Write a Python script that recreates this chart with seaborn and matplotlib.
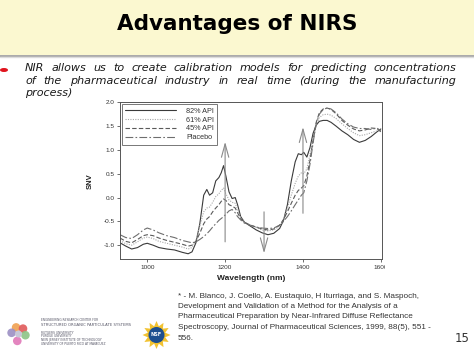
import numpy as np
import pandas as pd
import seaborn as sns
import matplotlib
matplotlib.use('Agg')
import matplotlib.pyplot as plt
from matplotlib.patches import Rectangle, Circle, Ellipse, Polygon
from matplotlib.transforms import Bbox, TransformedBbox

# ---- data ----
wavelength = [930, 945, 960, 975, 990, 1000, 1015, 1030, 1050, 1070, 1090, 1105, 1115, 1125,
              1135, 1145, 1153, 1160, 1168, 1176, 1184, 1190, 1196, 1202, 1210, 1218, 1226,
              1232, 1240, 1250, 1265, 1280, 1295, 1310, 1325, 1340, 1350, 1360, 1370, 1380,
              1388, 1396, 1402, 1410, 1418, 1426, 1434, 1442, 1452, 1462, 1472, 1485, 1500,
              1515, 1530, 1545, 1560, 1575, 1590, 1600]

api_82 = [-0.95, -1.02, -1.08, -1.05, -0.98, -0.96, -1.00, -1.05, -1.08, -1.10, -1.15, -1.18,
          -1.14, -0.95, -0.55, 0.05, 0.17, 0.05, 0.10, 0.35, 0.42, 0.52, 0.67, 0.45, 0.12,
          -0.02, 0.00, -0.15, -0.40, -0.52, -0.60, -0.68, -0.74, -0.78, -0.75, -0.65, -0.48,
          -0.15, 0.35, 0.75, 0.92, 0.90, 0.95, 0.85, 1.05, 1.35, 1.52, 1.60, 1.62, 1.62, 1.58,
          1.50, 1.40, 1.32, 1.22, 1.16, 1.20, 1.28, 1.38, 1.44]

api_61 = [-0.90, -0.97, -1.00, -0.93, -0.85, -0.83, -0.86, -0.92, -0.96, -1.00, -1.04, -1.08,
          -1.05, -0.90, -0.60, -0.30, -0.22, -0.20, -0.10, 0.02, 0.08, 0.15, 0.20, 0.08, -0.05,
          -0.10, -0.12, -0.25, -0.42, -0.52, -0.58, -0.63, -0.68, -0.70, -0.68, -0.60, -0.46,
          -0.22, 0.05, 0.30, 0.45, 0.52, 0.50, 0.60, 0.90, 1.25, 1.52, 1.68, 1.74, 1.75, 1.73,
          1.66, 1.55, 1.45, 1.36, 1.30, 1.32, 1.36, 1.40, 1.40]

api_45 = [-0.85, -0.92, -0.95, -0.88, -0.80, -0.78, -0.80, -0.85, -0.90, -0.94, -0.98, -1.02,
          -1.00, -0.92, -0.75, -0.55, -0.45, -0.40, -0.30, -0.22, -0.15, -0.08, -0.03, -0.06,
          -0.15, -0.18, -0.22, -0.32, -0.44, -0.52, -0.58, -0.62, -0.66, -0.68, -0.66, -0.58,
          -0.46, -0.30, -0.12, 0.05, 0.15, 0.20, 0.25, 0.45, 0.78, 1.20, 1.58, 1.78, 1.86, 1.88,
          1.85, 1.76, 1.62, 1.52, 1.44, 1.40, 1.42, 1.46, 1.45, 1.38]

placebo = [-0.78, -0.84, -0.86, -0.78, -0.68, -0.64, -0.68, -0.74, -0.80, -0.84, -0.90, -0.93,
           -0.95, -0.93, -0.88, -0.82, -0.76, -0.70, -0.62, -0.55, -0.48, -0.44, -0.40, -0.35,
           -0.28, -0.25, -0.32, -0.40, -0.47, -0.54, -0.58, -0.62, -0.64, -0.65, -0.64, -0.58,
           -0.50, -0.40, -0.28, -0.15, -0.05, 0.05, 0.10, 0.35, 0.70, 1.15, 1.55, 1.75, 1.85,
           1.88, 1.86, 1.78, 1.65, 1.55, 1.48, 1.45, 1.45, 1.43, 1.46, 1.40]

names = ['82% API', '61% API', '45% API', 'Placebo']

arrow_x = [1200, 1300, 1400]
arrow_from = [-0.93, -0.30, -0.33]
arrow_to = [1.17, -1.17, 1.48]

xticks = [1000, 1200, 1400, 1600]
yticks = [-1.0, -0.5, 0.0, 0.5, 1.0, 1.5, 2.0]

df = pd.DataFrame({'Wavelength': wavelength * 4,
                   'SNV': api_82 + api_61 + api_45 + placebo,
                   'sample': np.repeat(names, len(wavelength))})

sns.set_theme(style='ticks')
plt.rcParams['font.family'] = ['DejaVu Sans']

fig = plt.figure(figsize=(4.74, 3.55), dpi=100)
fig.patch.set_facecolor('white')

# slide decorations drawn in pixel coordinates
over = fig.add_axes([0, 0, 1, 1], zorder=-1)
over.set_xlim(0, 474)
over.set_ylim(355, 0)
over.axis('off')

over.add_patch(Rectangle((0, 0), 474, 55, color='#fbf8d0', lw=0))
over.plot([0, 474], [55.5, 55.5], color='#a3a3a3', lw=1.3)
over.plot([0, 474], [57, 57], color='#dcdcdc', lw=1.0)
over.text(237, 24, 'Advantages of NIRS', ha='center', va='center', fontsize=15.5,
          fontweight='bold', color='black')

over.add_patch(Ellipse((4, 70), 8, 4, color='#e0141e', lw=0))

body_kw = dict(fontsize=8.0, style='italic', color='#1a1a1a', va='center', ha='left')
renderer = fig.canvas.get_renderer()


def justified(line, y, x0, x1):
    words = line.split()
    texts = [over.text(x0, y, w, **body_kw) for w in words]
    widths = [t.get_window_extent(renderer).width for t in texts]
    gap = (x1 - x0 - sum(widths)) / (len(words) - 1)
    x = x0
    for t, w in zip(texts, widths):
        t.set_x(x)
        x += w + gap


justified('NIR allows us to create calibration models for predicting concentrations', 68, 25, 456)
justified('of the pharmaceutical industry in real time (during the manufacturing', 80.5, 25, 456)
over.text(25, 93, 'process)', **body_kw)

cite = ('* - M. Blanco, J. Coello, A. Eustaquio, H Iturriaga, and S. Maspoch,\n'
        'Development and Validation of a Method for the Analysis of a\n'
        'Pharmaceutical Preparation by Near-Infrared Diffuse Reflectance\n'
        'Spectroscopy, Journal of Pharmaceutical Sciences, 1999, 88(5), 551 -\n'
        '556.')
over.text(178, 292.5, cite, ha='left', va='top', fontsize=5.9, family='Liberation Sans',
          color='#333333', linespacing=1.7)
over.text(462, 338, '15', ha='center', va='center', fontsize=8.5, color='#333333')

# ERC logo
for ang, col in zip([110, 50, 170, 350, 260], ['#f0a050', '#e05a5a', '#9b8fc4', '#8cc486', '#e078b8']):
    over.add_patch(Circle((18.5 + 7 * np.cos(np.radians(ang)), 334 - 7 * np.sin(np.radians(ang))),
                          4.3, color=col, lw=0, alpha=0.9))
over.add_patch(Circle((18.5, 334), 3.5, color='#c8c8d8', lw=0))
erc_lines = ['ENGINEERING RESEARCH CENTER FOR', 'STRUCTURED ORGANIC PARTICULATE SYSTEMS',
             'RUTGERS UNIVERSITY', 'PURDUE UNIVERSITY', 'NEW JERSEY INSTITUTE OF TECHNOLOGY',
             'UNIVERSITY OF PUERTO RICO AT MAYAGUEZ']
for txt, yy, fs in zip(erc_lines, [320, 325.5, 332.5, 336, 340, 344], [2.2, 2.7, 2.2, 2.2, 2.2, 2.2]):
    over.text(41, yy, txt, fontsize=fs, color='#555566', va='center', ha='left')

# NSF logo
ang = np.linspace(0, 2 * np.pi, 25)[:-1]
rad = np.where(np.arange(24) % 2 == 0, 14, 9)
over.add_patch(Polygon(np.c_[156.5 + rad * np.cos(ang), 335 + rad * np.sin(ang)],
                       color='#f2c230', lw=0))
over.add_patch(Circle((156.5, 335), 8, color='#1d4f8f', lw=0))
over.text(156.5, 335, 'NSF', ha='center', va='center', fontsize=3.5, color='white',
          fontweight='bold')

# spectrum chart
ax = fig.add_axes([120 / 474, (355 - 259) / 355, 262 / 474, 156.7 / 355])
ax.set_facecolor('white')
palette = {'82% API': '#3a3a3a', '61% API': '#a8a8a8', '45% API': '#5a5a5a', 'Placebo': '#6e6e6e'}
dashes = {'82% API': '', '61% API': (1, 1.2), '45% API': (4, 2), 'Placebo': (7, 2, 1.5, 2)}
sns.lineplot(data=df, x='Wavelength', y='SNV', hue='sample', style='sample', hue_order=names,
             style_order=names, palette=palette, dashes=dashes, lw=0.8, ax=ax)

for xa, y0, y1 in zip(arrow_x, arrow_from, arrow_to):
    ax.annotate('', xy=(xa, y1), xytext=(xa, y0),
                arrowprops=dict(arrowstyle='->,head_width=0.22,head_length=0.8',
                                color='#8a8a8a', lw=0.8, shrinkA=0, shrinkB=0))

ax.set_xlim(930, 1603)
ax.set_ylim(-1.29, 2.0)
ax.set_xticks(xticks)
ax.set_xticklabels([str(v) for v in xticks])
ax.set_yticks(yticks)
ax.set_yticklabels(['%.1f' % v for v in yticks])
ax.tick_params(labelsize=4.6, length=2, width=0.6, color='#555555', labelcolor='#333333', pad=2)
for lbl in ax.get_xticklabels() + ax.get_yticklabels():
    lbl.set_family('Liberation Sans')
for sp in ax.spines.values():
    sp.set_visible(True)
    sp.set_color('#555555')
    sp.set_linewidth(0.7)
ax.set_xlabel('Wavelength (nm)', fontsize=6, fontweight='bold', family='Liberation Sans',
              color='#222222', labelpad=4)
ax.set_ylabel('SNV', fontsize=5.5, fontweight='bold', family='Liberation Sans',
              color='#222222', labelpad=7)

leg = ax.legend(loc='upper left', fontsize=5.2, handlelength=7, handletextpad=1.4,
                labelspacing=0.25, borderaxespad=0.3, frameon=True, fancybox=False,
                edgecolor='#555555', borderpad=0.45, title=None)
leg.get_frame().set_linewidth(0.7)
for t in leg.get_texts():
    t.set_family('Liberation Sans')
    t.set_color('#333333')

# the original picture is cropped just right of the chart frame
clip = TransformedBbox(Bbox([[0, 0], [385 / 474, 1]]), fig.transFigure)
for lbl in ax.get_xticklabels():
    lbl.set_clip_on(True)
    lbl.set_clip_box(clip)

fig.savefig('out.png', dpi=100)
